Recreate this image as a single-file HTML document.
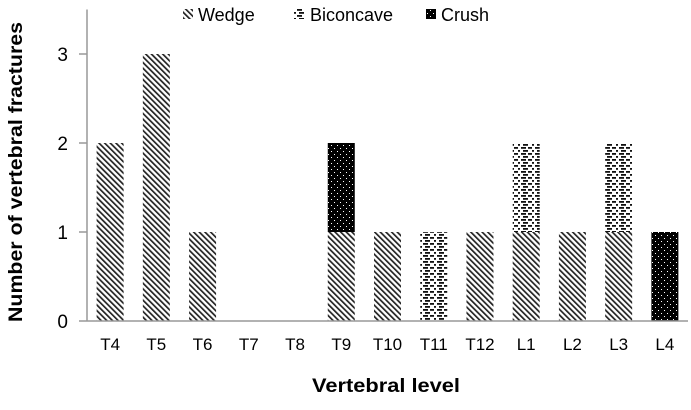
<!DOCTYPE html>
<html><head><meta charset="utf-8"><style>
body{margin:0;background:#fff}
svg text{font-family:"Liberation Sans",sans-serif}
</style></head><body>
<svg id="chart" width="691" height="405" viewBox="0 0 691 405" xmlns="http://www.w3.org/2000/svg">
<defs>
<pattern id="pWedge" patternUnits="userSpaceOnUse" width="4" height="4" patternTransform="rotate(-45)">
<rect width="4" height="4" fill="#fff"/><rect x="0" y="0" width="1.7" height="4" fill="#222"/>
</pattern>
<pattern id="pBicon" patternUnits="userSpaceOnUse" width="14" height="6">
<rect width="14" height="6" fill="#fff"/><rect x="0" y="0" width="2" height="1.8" fill="#111"/><rect x="5" y="0" width="5" height="1.8" fill="#111"/><rect x="3" y="3" width="5" height="1.8" fill="#111"/><rect x="10" y="3" width="4" height="1.8" fill="#111"/>
</pattern>
<pattern id="pCrush" patternUnits="userSpaceOnUse" width="6" height="6">
<rect width="6" height="6" fill="#000"/><rect x="1" y="1" width="1" height="1" fill="#fff"/><rect x="4" y="4" width="1" height="1" fill="#fff"/>
</pattern>
</defs>
<g id="bars"></g>
<g id="axes"></g>
<text transform="translate(22,172) rotate(-90)" text-anchor="middle" font-size="19" font-weight="bold" textLength="300" lengthAdjust="spacingAndGlyphs">Number  of  vertebral fractures</text>
<text x="386" y="392" text-anchor="middle" font-size="19" font-weight="bold" textLength="148" lengthAdjust="spacingAndGlyphs">Vertebral  level</text>
<g>
<rect x="183" y="9" width="10" height="10" fill="url(#pWedge)"/>
<text x="198" y="21" font-size="18">Wedge</text>
<rect x="294" y="9" width="10" height="10" fill="url(#pBicon)"/>
<text x="310" y="21" font-size="18">Biconcave</text>
<rect x="426" y="9" width="10" height="10" fill="url(#pCrush)"/>
<text x="441" y="21" font-size="18">Crush</text>
</g>
</svg>
<script>
const categories=["T4","T5","T6","T7","T8","T9","T10","T11","T12","L1","L2","L3","L4"];
const wedge=[2,3,1,0,0,1,1,0,1,1,1,1,0];
const biconcave=[0,0,0,0,0,0,0,1,0,1,0,1,0];
const crush=[0,0,0,0,0,1,0,0,0,0,0,0,1];
const yTicks=[0,1,2,3];
const NS="http://www.w3.org/2000/svg";
const x0=87,x1=688,y0=321,unit=89,bw=27;
const step=(x1-x0)/categories.length;
const xc=i=>x0+step*(i+0.5);
const y=v=>y0-v*unit;
const bars=document.getElementById('bars'),axes=document.getElementById('axes');
function mk(tag,attrs,parent){const e=document.createElementNS(NS,tag);for(const k in attrs)e.setAttribute(k,attrs[k]);parent.appendChild(e);return e;}
categories.forEach((c,i)=>{
  let base=0;
  [[wedge,'url(#pWedge)','wedge'],[biconcave,'url(#pBicon)','biconcave'],[crush,'url(#pCrush)','crush']].forEach(([arr,fill,n])=>{
    const v=arr[i];if(!v)return;
    const r=mk('rect',{x:xc(i)-bw/2,y:y(base+v),width:bw,height:v*unit,fill:fill},bars);
    
    
    base+=v;
  });
  const t=mk('text',{x:xc(i),y:350,'text-anchor':'middle','font-size':'17'},axes);
  t.textContent=c;
  
  
});
const xl=mk('line',{x1:x0,x2:x1,y1:y0,y2:y0,stroke:'#999','stroke-width':1.5},axes);


const yl=mk('line',{x1:x0,x2:x0,y1:y(3.5),y2:y0,stroke:'#999','stroke-width':1.5},axes);


yTicks.forEach(v=>{
  mk('line',{x1:x0-8,x2:x0,y1:y(v),y2:y(v),stroke:'#999','stroke-width':1.5},axes);
  const t=mk('text',{x:68,y:y(v)+7,'text-anchor':'end','font-size':'19'},axes);
  t.textContent=v;
  
  
});
</script>
</body></html>
